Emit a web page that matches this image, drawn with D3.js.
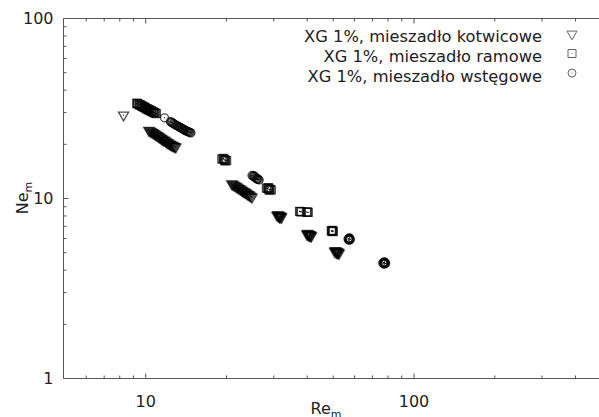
<!DOCTYPE html>
<html>
<head>
<meta charset="utf-8">
<script src="https://cdn.jsdelivr.net/npm/d3@7"></script>
<style>
  body { margin: 0; background: #fff; }
  svg { display: block; font-family: "DejaVu Sans", sans-serif; }
</style>
</head>
<body>
<div id="chart"></div>
<script>
// anchor stirrer (kotwicowe) - triangles
var reKotw = [8.3,
  10.3, 10.4, 10.5, 10.6, 10.7, 10.8, 10.9, 11.0, 11.1, 11.2, 11.3, 11.4, 11.5, 11.6, 11.7, 11.8, 11.9, 12.0,
  12.1, 12.2, 12.3, 12.4, 12.5, 12.6, 12.7, 12.8, 12.9, 13.0,
  21.0, 21.2, 21.4, 21.6, 21.8, 22.0, 22.2, 22.4, 22.6, 22.8, 23.0, 23.2, 23.4, 23.6, 23.8, 24.0, 24.2, 24.4,
  24.6, 24.8, 25.0,
  31.0, 31.3, 31.6, 31.9, 32.2, 31.2, 31.5, 31.8, 32.1, 31.6,
  40.0, 40.4, 40.8, 41.2, 41.6, 40.3, 40.7, 41.1, 41.5, 40.9,
  50.8, 51.3, 51.8, 52.3, 52.8, 51.1, 51.6, 52.1, 52.6, 51.9];
var neKotw = [28.9,
  23.8, 23.6, 23.4, 23.2, 23.0, 22.8, 22.6, 22.4, 22.2, 22.0, 21.8, 21.6, 21.4, 21.2, 21.0, 20.9, 20.7, 20.5,
  20.3, 20.2, 20.0, 19.9, 19.7, 19.6, 19.5, 19.4, 19.3, 19.2,
  12.0, 11.9, 11.8, 11.7, 11.6, 11.5, 11.4, 11.3, 11.2, 11.1, 11.0, 10.9, 10.8, 10.75, 10.65, 10.55, 10.45, 10.4,
  10.3, 10.2, 10.1,
  8.0, 7.95, 7.9, 7.85, 7.8, 8.08, 8.02, 7.96, 7.9, 7.84,
  6.3, 6.26, 6.22, 6.18, 6.14, 6.36, 6.31, 6.26, 6.21, 6.17,
  5.05, 5.02, 4.99, 4.96, 4.93, 5.1, 5.07, 5.04, 5.0, 4.97];

// frame stirrer (ramowe) - squares
var reRam = [9.3, 9.35, 9.4, 9.5, 9.55, 9.6, 9.7, 9.75, 9.8, 9.9, 9.95, 10.0, 10.1, 10.15, 10.2, 10.3, 10.35, 10.4,
  10.5, 10.55, 10.6, 10.7, 10.75, 10.8, 10.9, 11.0,
  19.3, 19.5, 19.7, 19.9, 20.1, 19.6, 19.8,
  28.3, 28.6, 28.9, 29.2, 29.5, 28.8, 29.0,
  37.6, 37.9, 38.2, 39.9, 40.2, 40.5,
  49.4, 49.8, 50.2, 49.6, 50.0];
var neRam = [33.6, 33.45, 33.3, 33.0, 32.9, 32.8, 32.5, 32.35, 32.2, 32.0, 31.85, 31.7, 31.4, 31.3, 31.2, 31.0, 30.85, 30.7,
  30.5, 30.4, 30.3, 30.0, 29.9, 29.8, 29.6, 29.4,
  16.5, 16.45, 16.35, 16.25, 16.15, 16.6, 16.1,
  11.35, 11.3, 11.2, 11.15, 11.1, 11.4, 11.05,
  8.42, 8.4, 8.38, 8.36, 8.35, 8.33,
  6.58, 6.6, 6.55, 6.52, 6.5];

// ribbon stirrer (wstegowe) - circles
var reWst = [11.8, 12.4, 12.5, 12.6, 12.7, 12.8, 12.9, 13.0, 13.1, 13.2, 13.3, 13.4, 13.5, 13.6, 13.7, 13.8, 13.9,
  14.0, 14.1, 14.2, 14.3, 14.4, 14.5, 14.6, 14.7, 14.8,
  25.0, 25.2, 25.4, 25.6, 25.8, 26.0, 26.2, 26.4, 26.6, 25.5, 26.1,
  57.0, 57.4, 57.8, 58.2, 57.3, 57.9, 57.6, 57.6,
  76.8, 77.3, 77.8, 78.3, 78.8, 77.5, 78.1, 77.8, 77.8];
var neWst = [27.9, 26.6, 26.4, 26.2, 26.0, 25.8, 25.6, 25.4, 25.25, 25.1, 24.95, 24.8, 24.65, 24.5, 24.35, 24.2, 24.05,
  23.9, 23.75, 23.6, 23.5, 23.4, 23.3, 23.2, 23.1, 23.0,
  13.35, 13.25, 13.15, 13.05, 12.95, 12.85, 12.75, 12.68, 12.6, 13.3, 12.7,
  5.92, 5.95, 5.9, 5.88, 5.84, 5.98, 6.0, 5.83,
  4.35, 4.38, 4.36, 4.33, 4.34, 4.31, 4.4, 4.42, 4.29];

var seriesNames = ["XG 1%, mieszadło kotwicowe", "XG 1%, mieszadło ramowe", "XG 1%, mieszadło wstęgowe"];

var xMajor = [10, 100];
var xMinor = [6, 7, 8, 9, 20, 30, 40, 50, 60, 70, 80, 90, 200, 300, 400];
var yMajor = [1, 10, 100];
var yMinor = [2, 3, 4, 5, 6, 7, 8, 9, 20, 30, 40, 50, 60, 70, 80, 90];

var width = 599, height = 417;
var plotL = 63, plotR = 599, plotT = 18, plotB = 378;

var svg = d3.select("#chart").append("svg")
  .attr("width", width)
  .attr("height", height);

var x = d3.scaleLog().domain([5, 500]).range([64.5, 601]);
var y = d3.scaleLog().domain([1, 100]).range([plotB, plotT]);

var axisColor = "#555";

//axes: majors with labels, minors without
function styleAxis(g) {
  g.select(".domain").remove();
  g.selectAll("line").attr("stroke", axisColor);
  g.selectAll("text").attr("fill", "#222").style("font-size", "16px").style("font-family", "DejaVu Sans");
}

// frame lines (left, bottom, top)
var frame = svg.append("g").attr("stroke", axisColor).attr("stroke-width", 1);
frame.append("line").attr("x1", plotL + 0.5).attr("x2", plotL + 0.5).attr("y1", plotT + 0.5).attr("y2", plotB + 0.5);
frame.append("line").attr("x1", plotL + 0.5).attr("x2", plotR).attr("y1", plotB + 0.5).attr("y2", plotB + 0.5);
frame.append("line").attr("x1", plotL + 0.5).attr("x2", plotR).attr("y1", plotT + 0.5).attr("y2", plotT + 0.5);

svg.append("g")
  .attr("transform", "translate(0," + (plotB + 0.5) + ")")
  .call(d3.axisBottom(x).tickValues(xMajor).tickFormat(d3.format("d")).tickSize(-5).tickSizeOuter(0).tickPadding(17))
  .call(styleAxis);
svg.append("g")
  .attr("transform", "translate(0," + (plotB + 0.5) + ")")
  .call(d3.axisBottom(x).tickValues(xMinor).tickFormat("").tickSize(-3).tickSizeOuter(0))
  .call(styleAxis);

// top line, ticks pointing down
svg.append("g")
  .attr("transform", "translate(0," + (plotT + 0.5) + ")")
  .call(d3.axisTop(x).tickValues(xMajor).tickFormat("").tickSize(-5).tickSizeOuter(0))
  .call(styleAxis);
svg.append("g")
  .attr("transform", "translate(0," + (plotT + 0.5) + ")")
  .call(d3.axisTop(x).tickValues(xMinor).tickFormat("").tickSize(-3).tickSizeOuter(0))
  .call(styleAxis);

svg.append("g")
  .attr("transform", "translate(" + (plotL + 0.5) + ",0)")
  .call(d3.axisLeft(y).tickValues(yMajor).tickFormat(d3.format("d")).tickSize(-5).tickSizeOuter(0).tickPadding(10))
  .call(styleAxis);
svg.append("g")
  .attr("transform", "translate(" + (plotL + 0.5) + ",0)")
  .call(d3.axisLeft(y).tickValues(yMinor).tickFormat("").tickSize(-3).tickSizeOuter(0))
  .call(styleAxis);

//axis titles
var xt = svg.append("text")
  .attr("x", 326)
  .attr("y", 414)
  .attr("text-anchor", "middle")
  .style("font-size", "16px")
  .attr("fill", "#222");
xt.append("tspan").text("Re");
xt.append("tspan").text("m").attr("dy", 4).style("font-size", "11px");

var yt = svg.append("text")
  .attr("transform", "translate(28,198) rotate(-90)")
  .attr("text-anchor", "middle")
  .style("font-size", "16px")
  .attr("fill", "#222");
yt.append("tspan").text("Ne");
yt.append("tspan").text("m").attr("dy", 4).style("font-size", "11px");

// markers
var markerStroke = "#000";
var symTri = d3.symbol().type(d3.symbolTriangle).size(44);
var symSq = d3.symbol().type(d3.symbolSquare).size(64);
var symCirc = d3.symbol().type(d3.symbolCircle).size(50);

var series = [
  { re: reKotw, ne: neKotw, sym: symTri, rot: 180 },
  { re: reRam, ne: neRam, sym: symSq, rot: 0 },
  { re: reWst, ne: neWst, sym: symCirc, rot: 0 }
];

function drawMarker(g, px, py, s) {
  g.append("path")
    .attr("d", s.sym())
    .attr("transform", "translate(" + px + "," + py + ") rotate(" + s.rot + ")")
    .attr("fill", "none")
    .attr("stroke", markerStroke)
    .attr("stroke-opacity", 0.7)
    .attr("stroke-width", 1.3);
  g.append("circle")
    .attr("cx", px)
    .attr("cy", py)
    .attr("r", 0.6)
    .attr("fill", markerStroke);
}

var pts = svg.append("g").attr("class", "points");
series.forEach(function(s) {
  s.re.forEach(function(r, i) {
    drawMarker(pts, x(r), y(s.ne[i]), s);
  });
});

//legend
var legend = svg.append("g").attr("id", "legend");
seriesNames.forEach(function(name, i) {
  legend.append("text")
    .text(name)
    .attr("x", 542)
    .attr("y", 42 + i * 20)
    .attr("text-anchor", "end")
    .style("font-size", "16.3px")
    .attr("fill", "#222");
  var s = series[i];
  legend.append("path")
    .attr("d", s.sym())
    .attr("transform", "translate(572," + (34 + i * 19.5) + ") rotate(" + s.rot + ")")
    .attr("fill", "none")
    .attr("stroke", "#666")
    .attr("stroke-width", 1);
  if (i > 0) {
    legend.append("circle").attr("cx", 572).attr("cy", 34 + i * 19.5).attr("r", 0.6).attr("fill", "#666");
  }
});
</script>
</body>
</html>
